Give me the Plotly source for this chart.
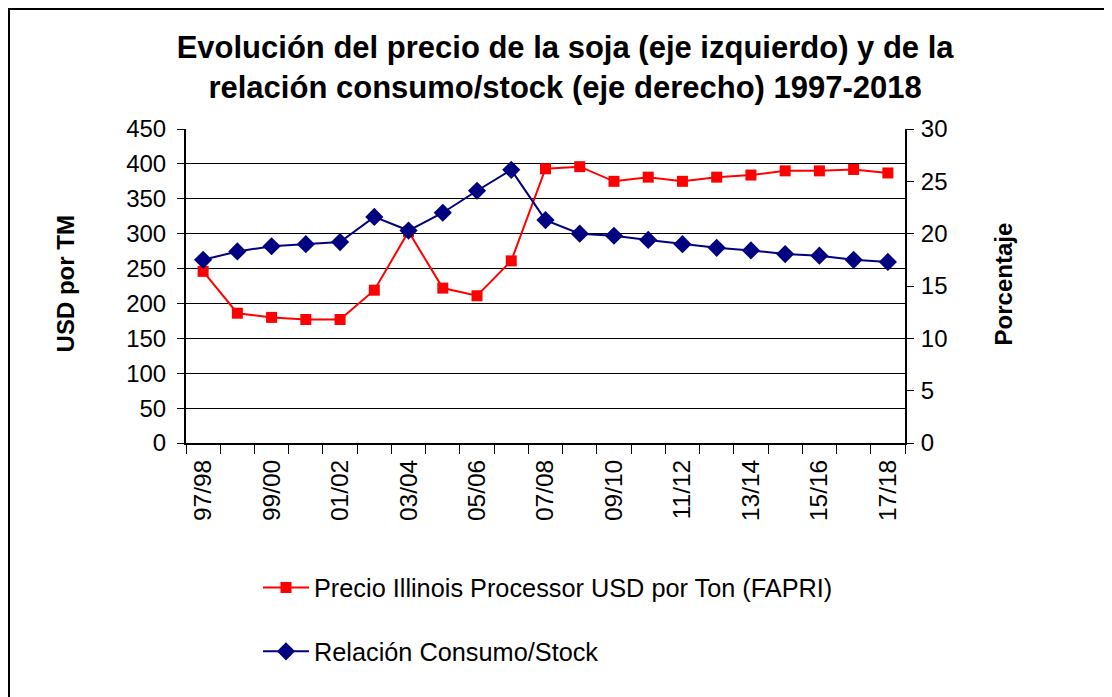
import plotly.graph_objects as go

categories = ["97/98", "98/99", "99/00", "00/01", "01/02", "02/03", "03/04", "04/05",
              "05/06", "06/07", "07/08", "08/09", "09/10", "10/11", "11/12", "12/13",
              "13/14", "14/15", "15/16", "16/17", "17/18"]
precio = [246, 186, 180, 177, 177, 219, 303, 222, 211, 261, 393, 396, 375, 381, 375,
          381, 384, 390, 390, 392, 387]
relacion = [17.5, 18.3, 18.8, 19.0, 19.2, 21.6, 20.3, 22.0, 24.1, 26.1, 21.3, 20.0,
            19.8, 19.4, 19.0, 18.65, 18.4, 18.05, 17.9, 17.5, 17.3]
left_ticks = list(range(0, 451, 50))
right_ticks = list(range(0, 31, 5))

FONT = "Liberation Sans, Arial, sans-serif"

# page body has an 8px margin, so the figure is placed at (8, 8)
ML, MT, W, H = 178, 121, 1112, 697
PW, PH = 719, 314

fig = go.Figure()
fig.add_trace(go.Scatter(
    x=categories, y=precio, name="Precio Illinois Processor USD por Ton (FAPRI)",
    mode="lines+markers", line=dict(color="#FF0000", width=2),
    marker=dict(symbol="square", size=11, color="#FF0000"),
    legendgroup="a", yaxis="y"))
fig.add_trace(go.Scatter(
    x=categories, y=relacion, name="Relación Consumo/Stock",
    mode="lines+markers", line=dict(color="#000080", width=2),
    marker=dict(symbol="diamond", size=14, color="#000080"),
    legendgroup="b", yaxis="y2"))

ticktext = [c if i % 2 == 0 else "" for i, c in enumerate(categories)]

fig.update_layout(
    width=W, height=H,
    margin=dict(l=ML, r=W - ML - PW, t=MT, b=H - MT - PH),
    paper_bgcolor="white", plot_bgcolor="white",
    font=dict(family=FONT, size=24, color="black"),
    title=dict(text="<b>Evolución del precio de la soja (eje izquierdo) y de la<br>"
                    "relación consumo/stock (eje derecho) 1997-2018</b>",
               x=0.501, xanchor="center", y=1 - 50 / 697, yanchor="middle",
               font=dict(family=FONT, size=31, color="black")),
    xaxis=dict(type="category", tickmode="array", tickvals=categories, ticktext=ticktext,
               tickson="boundaries", ticks="outside", ticklen=9, tickcolor="black",
               tickangle=-90, showgrid=False, showline=True, linecolor="black",
               linewidth=2, range=[-0.5, 20.5], tickfont=dict(size=24.5),
               ticklabelstandoff=5),
    yaxis=dict(range=[0, 450], tickmode="array", tickvals=left_ticks,
               ticks="outside", ticklen=7, tickcolor="black",
               showline=True, linecolor="black", linewidth=2,
               showgrid=True, gridcolor="black", gridwidth=1, zeroline=False,
               tickfont=dict(size=24), ticklabelstandoff=6),
    yaxis2=dict(range=[0, 30], tickmode="array", tickvals=right_ticks, overlaying="y",
                side="right", ticks="outside", ticklen=7, tickcolor="black",
                showline=True, linecolor="black", linewidth=2, showgrid=False,
                zeroline=False, tickfont=dict(size=24), ticklabelstandoff=2),
    legend=dict(x=(250 - ML) / PW, y=-0.387, xanchor="left", yanchor="top",
                traceorder="grouped", tracegroupgap=28, bgcolor="rgba(0,0,0,0)",
                font=dict(size=25.3), itemwidth=46),
    showlegend=True,
    annotations=[
        dict(text="<b>USD por TM</b>", xref="paper", yref="paper", x=(57 - ML) / PW,
             y=0.505, textangle=-90, showarrow=False, xanchor="center", yanchor="middle",
             font=dict(size=24)),
        dict(text="<b>Porcentaje</b>", xref="paper", yref="paper", x=(995 - ML) / PW,
             y=0.505, textangle=-90, showarrow=False, xanchor="center", yanchor="middle",
             font=dict(size=24)),
    ],
    shapes=[dict(type="rect", xref="paper", yref="paper",
                 x0=(1 - ML) / PW, x1=(1130 - ML) / PW,
                 y0=(MT + PH - 720) / PH, y1=1 + (MT - 1) / PH,
                 line=dict(color="black", width=2), fillcolor="rgba(0,0,0,0)",
                 layer="below")],
)

fig.write_html("out.html")
